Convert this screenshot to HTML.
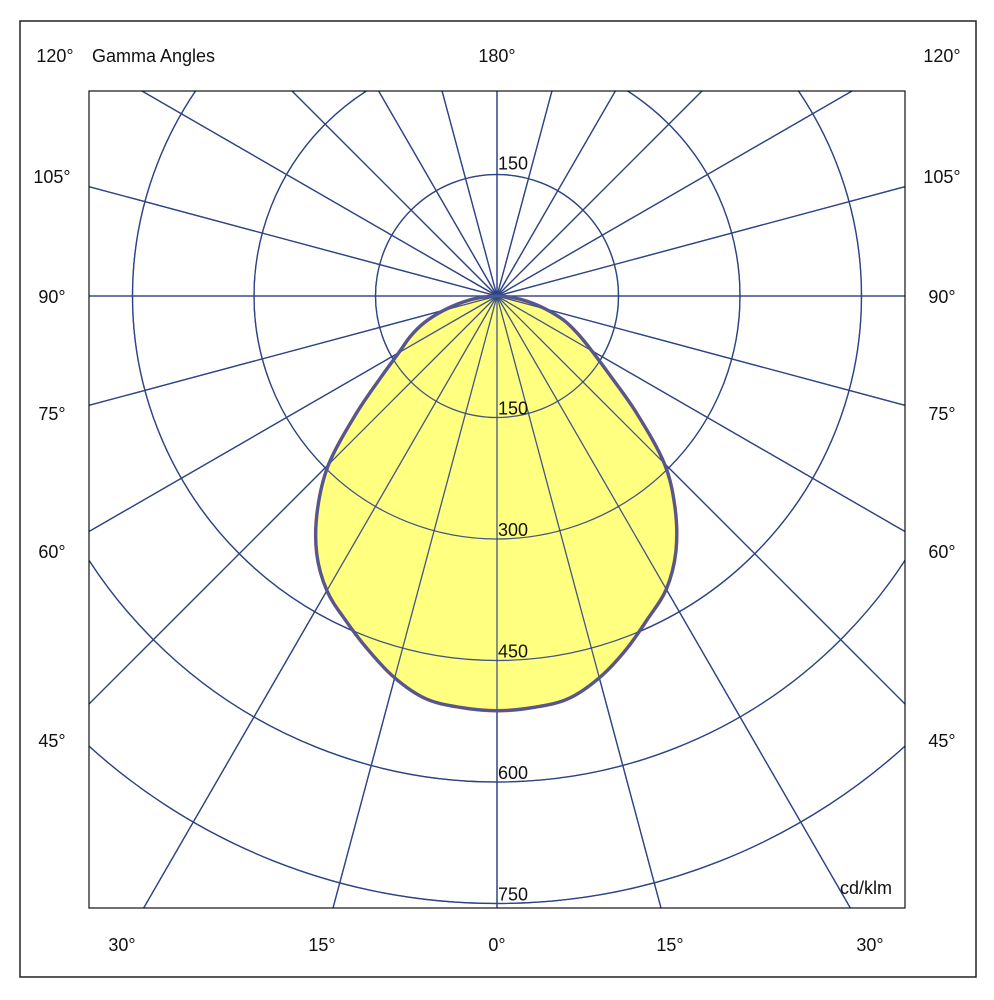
<!DOCTYPE html>
<html><head><meta charset="utf-8"><style>
html,body{margin:0;background:#fff;overflow:hidden;width:994px;height:1000px}
svg{display:block;font-family:"Liberation Sans",sans-serif}
</style></head><body>
<svg id="c" width="994" height="1000" viewBox="0 0 994 1000">
<rect x="20" y="21" width="956" height="956" fill="#fff" stroke="#222" stroke-width="1.5"/>
<defs><clipPath id="pc"><rect x="89" y="91" width="816" height="817"/></clipPath></defs>
<g id="grid" clip-path="url(#pc)"></g>
<g id="curve" clip-path="url(#pc)"></g>
<g id="grid2" clip-path="url(#pc)"></g>
<g id="outline" clip-path="url(#pc)"></g>
<rect x="89" y="91" width="816" height="817" fill="none" stroke="#111" stroke-width="1.2"/>
<g font-size="18" fill="#111">
<text x="92" y="62">Gamma Angles</text>
<text x="497" y="62" text-anchor="middle">180°</text>
<text x="55" y="62" text-anchor="middle">120°</text>
<text x="942" y="62" text-anchor="middle">120°</text>
<text x="52" y="183" text-anchor="middle">105°</text>
<text x="942" y="183" text-anchor="middle">105°</text>
<text x="52" y="303" text-anchor="middle">90°</text>
<text x="942" y="303" text-anchor="middle">90°</text>
<text x="52" y="420" text-anchor="middle">75°</text>
<text x="942" y="420" text-anchor="middle">75°</text>
<text x="52" y="558" text-anchor="middle">60°</text>
<text x="942" y="558" text-anchor="middle">60°</text>
<text x="52" y="747" text-anchor="middle">45°</text>
<text x="942" y="747" text-anchor="middle">45°</text>
<text x="122" y="951" text-anchor="middle">30°</text>
<text x="322" y="951" text-anchor="middle">15°</text>
<text x="497" y="951" text-anchor="middle">0°</text>
<text x="670" y="951" text-anchor="middle">15°</text>
<text x="870" y="951" text-anchor="middle">30°</text>
<text x="866" y="894" text-anchor="middle">cd/klm</text>
</g>
<g id="rlabels" font-size="18" fill="#111"></g>
</svg>
<script>
const ringValues=[150,300,450,600,750];
const gammaAngles=[0,5,10,15,20,25,30,35,40,45,50,55,60,65,70,75,80,85,90];
const intensityRight=[512,510,505,488,465,440,418,385,342,292,225,170,135,110,88,62,38,18,0];
const intensityLeft=[512,510,505,488,465,442,420,388,345,294,228,175,140,118,95,68,42,20,0];
const cx=497,cy=296,scale=121.5/150;
const NS="http://www.w3.org/2000/svg";
const LINE='#2e4484';
function rad(v){return v*scale;}
function pt(g,v,side){const a=g*Math.PI/180;return [cx+side*rad(v)*Math.sin(a),cy+rad(v)*Math.cos(a)];}
function drawGrid(g,op){
 ringValues.forEach(v=>{const c=document.createElementNS(NS,'circle');
 c.setAttribute('cx',cx);c.setAttribute('cy',cy);c.setAttribute('r',rad(v));
 c.setAttribute('fill','none');c.setAttribute('stroke',LINE);c.setAttribute('stroke-width','1.3');c.setAttribute('opacity',op);
 
 
 g.appendChild(c);});
 for(let a=0;a<360;a+=15){const t=a*Math.PI/180;const l=document.createElementNS(NS,'line');
 l.setAttribute('x1',cx);l.setAttribute('y1',cy);l.setAttribute('x2',cx+1500*Math.sin(t));l.setAttribute('y2',cy+1500*Math.cos(t));
 l.setAttribute('stroke',LINE);l.setAttribute('stroke-width','1.3');l.setAttribute('opacity',op);
 
 
 g.appendChild(l);}
}
drawGrid(document.getElementById('grid'),1);
let pts=[];
for(let i=0;i<gammaAngles.length;i++)pts.push(pt(gammaAngles[i],intensityRight[i],1));
for(let i=gammaAngles.length-2;i>=1;i--)pts.push(pt(gammaAngles[i],intensityLeft[i],-1));
// closed Catmull-Rom spline
const n=pts.length;let d='M'+pts[0][0].toFixed(1)+','+pts[0][1].toFixed(1);
for(let i=0;i<n;i++){const p0=pts[(i-1+n)%n],p1=pts[i],p2=pts[(i+1)%n],p3=pts[(i+2)%n];
 const c1=[p1[0]+(p2[0]-p0[0])/6,p1[1]+(p2[1]-p0[1])/6],c2=[p2[0]-(p3[0]-p1[0])/6,p2[1]-(p3[1]-p1[1])/6];
 d+='C'+c1.map(x=>x.toFixed(1)).join(',')+' '+c2.map(x=>x.toFixed(1)).join(',')+' '+p2.map(x=>x.toFixed(1)).join(',');}
d+='Z';
const f=document.createElementNS(NS,'path');f.setAttribute('d',d);f.setAttribute('fill','#ffff80');f.setAttribute('stroke','#e05040');f.setAttribute('stroke-width','3.5');f.setAttribute('stroke-linejoin','round');


document.getElementById('curve').appendChild(f);
drawGrid(document.getElementById('grid2'),0.9);
const o=document.createElementNS(NS,'path');o.setAttribute('d',d);o.setAttribute('fill','none');o.setAttribute('stroke','#4a5a96');o.setAttribute('stroke-width','3');o.setAttribute('stroke-linejoin','round');


document.getElementById('outline').appendChild(o);
const rl=document.getElementById('rlabels');
function lab(v,y){const t=document.createElementNS(NS,'text');t.setAttribute('x',498);t.setAttribute('y',y);t.textContent=v;


rl.appendChild(t);}
lab(ringValues[0],cy-rad(ringValues[0])-5);
ringValues.forEach(v=>lab(v,cy+rad(v)-3));
</script>
</body></html>
